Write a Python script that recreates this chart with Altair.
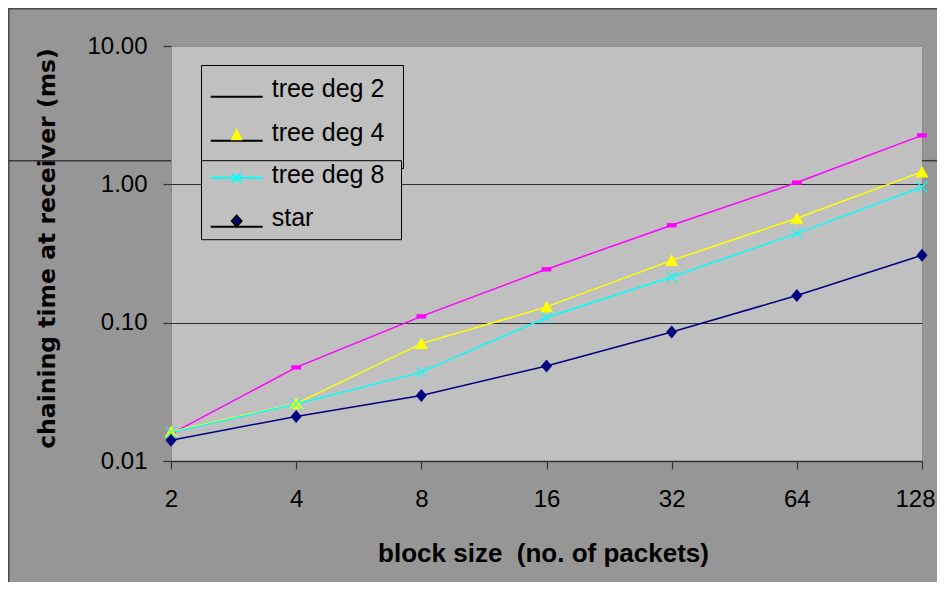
import altair as alt
import pandas as pd

# ---------------- data ----------------
block_sizes = [2, 4, 8, 16, 32, 64, 128]
series_names = ["tree deg 2", "tree deg 4", "tree deg 8", "star"]
tree_deg2 = [0.0157, 0.0475, 0.111, 0.243, 0.506, 1.03, 2.26]
tree_deg4 = [0.0163, 0.0260, 0.0706, 0.130, 0.282, 0.568, 1.23]
tree_deg8 = [0.0161, 0.0258, 0.0439, 0.109, 0.214, 0.442, 0.957]
star = [0.0141, 0.0210, 0.0298, 0.0486, 0.0855, 0.157, 0.307]
y_ticks = [0.01, 0.1, 1, 10]

# ---------------- styling ----------------
series_colors = ["#FF00FF", "#FFFF00", "#00FFFF", "#000080"]
marker_paths = [
    "M-0.75,-0.33H0.75V0.33H-0.75Z",
    "M-1,0.85L0,-0.95L1,0.85Z",
    "M-0.9,-0.78L-0.78,-0.9L0.9,0.78L0.78,0.9ZM-0.9,0.78L-0.78,0.9L0.9,-0.78L0.78,-0.9Z",
    "M0,-1L0.85,0L0,1L-0.85,0Z",
]
legend_top_names = ["tree deg 2", "tree deg 4"]
legend_top_paths = [
    "M-4.33,1.28H4.33M25,0",
    "M-4.33,1.33H4.33M0,3.25",
]
legend_top_fill = ["#000000", "#000000"]
legend_top_stroke = ["#000000", "#000000"]
legend_tri_names = ["tree deg 4"]
legend_tri_paths = ["M-1,1.25L0,-0.8L1,1.25Z"]
legend_tri_fill = ["#FFFF00"]
legend_bot_names = ["tree deg 8", "star"]
legend_bot_paths = [
    "M-4.33,0.45H4.33M-0.75,-0.3L0.75,1.2M-0.75,1.2L0.75,-0.3M26.3,0",
    "M-4.33,1.5H4.33M0,-0.35L0.8,0.55L0,1.45L-0.8,0.55ZM0,2.5",
]
legend_bot_fill = ["#00FFFF", "#000080"]
legend_bot_stroke = ["#00FFFF", "#000000"]

rows = []
for name, vals in zip(series_names, [tree_deg2, tree_deg4, tree_deg8, star]):
    for b, v in zip(block_sizes, vals):
        rows.append({"block": b, "time": v, "series": name})
df = pd.DataFrame(rows)

PLOT_W, PLOT_H = 751, 415
TOTAL_W, TOTAL_H = 929, 574
PAD = {"left": 163, "top": 38, "right": TOTAL_W - 163 - PLOT_W, "bottom": TOTAL_H - 38 - PLOT_H}

LABEL_FONT = "Liberation Sans"

x_enc = alt.X(
    "block:Q",
    scale=alt.Scale(type="log", base=2, domain=[2, 128], nice=False),
    axis=alt.Axis(
        values=block_sizes, format="d", title="block size\u00a0 (no. of packets)",
        grid=False, domain=True, domainColor="#333333", domainWidth=1.5,
        ticks=True, tickSize=8, tickColor="#333333", tickWidth=1.2,
        labelPadding=18, labelFontSize=24, labelFont=LABEL_FONT, labelColor="#000000",
        labelFlush=False,
        labelOffset={"condition": {"test": "datum.value >= 100", "value": -7}, "value": 0},
        titleFont=LABEL_FONT, titleFontSize=26, titleFontWeight="bold", titleColor="#000000",
        titleX=372, titleY=92, titleBaseline="middle",
    ),
)
y_enc = alt.Y(
    "time:Q",
    scale=alt.Scale(type="log", domain=[0.01, 10], nice=False),
    axis=alt.Axis(
        values=y_ticks, format=".2f", title="chaining time at receiver (ms)",
        grid=True, gridColor="#303030", gridWidth=1.2,
        gridOpacity={"condition": {"test": "datum.value > 5 || datum.value < 0.02", "value": 0}, "value": 1},
        domain=False, ticks=True, tickSize=8, tickColor="#333333", tickWidth=1.2,
        labelPadding=16, labelFontSize=24, labelFont=LABEL_FONT, labelColor="#000000",
        titleFont="DejaVu Sans", titleFontSize=23.5, titleFontWeight="bold", titleColor="#000000",
        titleX=-124, titleY=202, titleAngle=270, titleBaseline="middle",
    ),
)

color_scale = alt.Scale(domain=series_names, range=series_colors)

lines = alt.Chart(df).mark_line(strokeWidth=1.5).encode(
    x=x_enc, y=y_enc,
    color=alt.Color("series:N", scale=color_scale, legend=None),
)

points = alt.Chart(df).mark_point(filled=True, opacity=1, size=169, strokeWidth=0).encode(
    x=x_enc, y=y_enc,
    color=alt.Color("series:N", scale=color_scale, legend=None),
    shape=alt.Shape("series:N", scale=alt.Scale(domain=series_names, range=marker_paths), legend=None),
)


def make_legend(lx, ly, pad, row_pad, sym_off, lab_off, label_expr=None, fill="#C0C0C0",
                stroke="#000000", sw=2):
    kw = dict(
        orient="none", legendX=lx, legendY=ly, title=None, padding=pad, rowPadding=row_pad,
        symbolSize=144, symbolStrokeWidth=sw, symbolOffset=sym_off, symbolOpacity=1,
        labelOffset=lab_off, labelFontSize=25, labelFont=LABEL_FONT, labelColor="#000000",
        labelLimit=300, fillColor=fill, strokeColor=stroke, direction="vertical",
    )
    if label_expr is not None:
        kw["labelExpr"] = label_expr
    return alt.Legend(**kw)


TOP_Y = 19
top_leg = make_legend(30, TOP_Y, 11.5, 17.7, 11.7, 22.5)
tri_leg = make_legend(30, TOP_Y + 43.7, 11.5, 17.7, 11.7, 22.5, label_expr="''",
                      fill="transparent", stroke="transparent", sw=0)
bot_leg = make_legend(30, 114.2, 2.3, 16.7, 20.9, 22.5)

leg_top_layer = alt.Chart(df).transform_filter("false").mark_point(filled=True, opacity=1).encode(
    x=x_enc, y=y_enc,
    shape=alt.Shape("series:N", scale=alt.Scale(domain=legend_top_names, range=legend_top_paths), legend=top_leg),
    fill=alt.Fill("series:N", scale=alt.Scale(domain=legend_top_names, range=legend_top_fill), legend=top_leg),
    stroke=alt.Stroke("series:N", scale=alt.Scale(domain=legend_top_names, range=legend_top_stroke), legend=top_leg),
)
leg_tri_layer = alt.Chart(df).transform_filter("false").mark_point(filled=True, opacity=1).encode(
    x=x_enc, y=y_enc,
    shape=alt.Shape("series:N", scale=alt.Scale(domain=legend_tri_names, range=legend_tri_paths), legend=tri_leg),
    fill=alt.Fill("series:N", scale=alt.Scale(domain=legend_tri_names, range=legend_tri_fill), legend=tri_leg),
)
leg_bot_layer = alt.Chart(df).transform_filter("false").mark_point(filled=True, opacity=1).encode(
    x=x_enc, y=y_enc,
    shape=alt.Shape("series:N", scale=alt.Scale(domain=legend_bot_names, range=legend_bot_paths), legend=bot_leg),
    fill=alt.Fill("series:N", scale=alt.Scale(domain=legend_bot_names, range=legend_bot_fill), legend=bot_leg),
    stroke=alt.Stroke("series:N", scale=alt.Scale(domain=legend_bot_names, range=legend_bot_stroke), legend=bot_leg),
)

# decorative frame lines of the original slide
dummy = pd.DataFrame({"k": [0]})
frame_left = alt.Chart(dummy).mark_rule(color="#4a4a4a", strokeWidth=1.5).encode(
    x=alt.value(-162.2), y=alt.value(-38), y2=alt.value(TOTAL_H - 38))
frame_top = alt.Chart(dummy).mark_rule(color="#4a4a4a", strokeWidth=1.5).encode(
    x=alt.value(-163), x2=alt.value(TOTAL_W - 163), y=alt.value(-37.3))
stray_left = alt.Chart(dummy).mark_rule(color="#3a3a3a", strokeWidth=1.5).encode(
    x=alt.value(-163), x2=alt.value(0), y=alt.value(114.7))
stray_right = alt.Chart(dummy).mark_rule(color="#3a3a3a", strokeWidth=1.5).encode(
    x=alt.value(PLOT_W), x2=alt.value(TOTAL_W - 163), y=alt.value(114.7))

chart = alt.layer(
    lines, points, leg_top_layer, leg_tri_layer, leg_bot_layer,
    frame_left, frame_top, stray_left, stray_right
).resolve_scale(
    shape="independent", fill="independent", stroke="independent"
).resolve_legend(
    shape="independent", fill="independent", stroke="independent"
).properties(
    width=PLOT_W, height=PLOT_H,
    autosize=alt.AutoSizeParams(type="none"),
    padding=PAD,
).configure(
    background="#969696",
).configure_view(
    fill="#C0C0C0", stroke="#8c8c8c", strokeWidth=1,
)

chart.save("out.html", embed_options={"renderer": "svg", "actions": False})
